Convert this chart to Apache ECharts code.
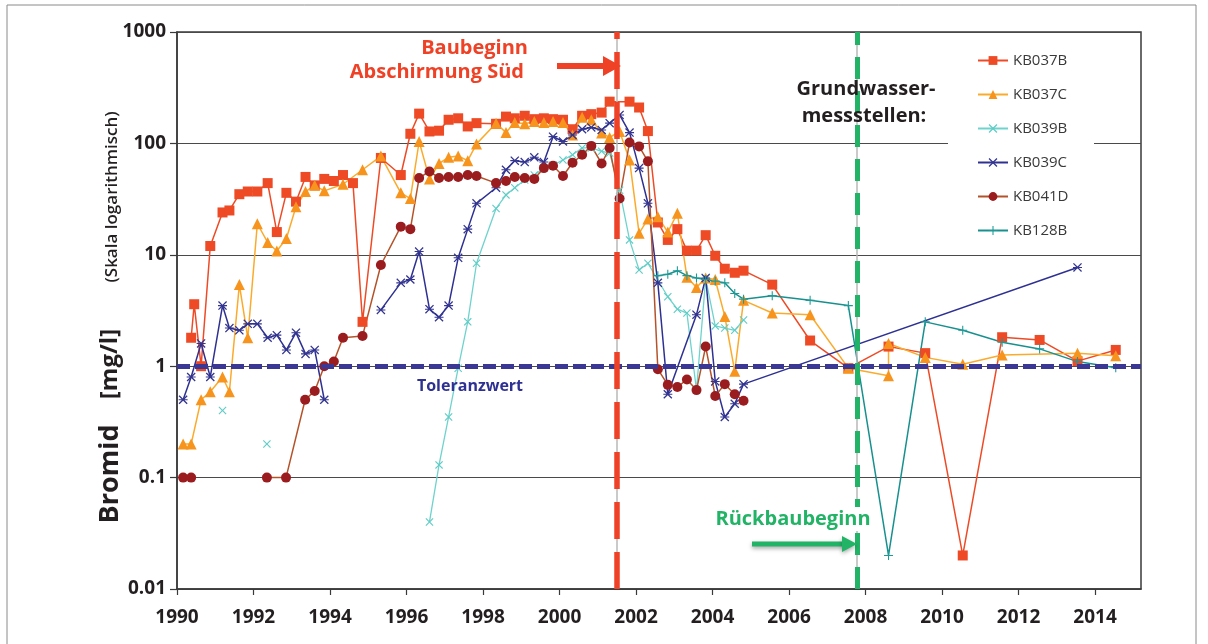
<!DOCTYPE html>
<html>
<head>
<meta charset="utf-8">
<script src="https://cdn.jsdelivr.net/npm/echarts@6.0.0/dist/echarts.min.js"></script>
<style>
    body { margin: 0; background: #fff; }
    #chart { width: 1208px; height: 644px; }
</style>
</head>
<body>
<div id="chart"></div>
<script>
// Bromid concentrations [mg/l], pairs of [year, value]; '-' breaks the line
var kb037b = [[1990.37, 1.8], [1990.45, 3.6], [1990.63, 1.0], [1990.87, 12], [1991.19, 24], [1991.37, 25], [1991.63, 35], [1991.85, 37], [1992.1, 37], [1992.37, 44], [1992.61, 16], [1992.86, 36], [1993.11, 30], [1993.36, 50], [1993.6, 42], [1993.85, 48], [1994.1, 46], [1994.34, 52], [1994.6, 44], [1994.85, 2.5], [1995.33, 74], [1995.85, 52], [1996.1, 122], [1996.33, 185], [1996.6, 128], [1996.85, 130], [1997.1, 163], [1997.35, 168], [1997.6, 142], [1997.83, 152], [1998.34, 150], [1998.6, 174], [1998.83, 168], [1999.09, 177], [1999.34, 165], [1999.59, 168], [1999.83, 165], [2000.09, 163], [2000.34, 134], [2000.59, 177], [2000.83, 183], [2001.1, 189], [2001.31, 237], [2001.83, 237], [2002.08, 210], [2002.31, 129], [2002.57, 19.5], [2002.83, 13.6], [2003.08, 17], [2003.33, 10.9], [2003.58, 10.9], [2003.82, 15], [2004.07, 9.8], [2004.32, 7.5], [2004.58, 6.9], [2004.81, 7.2], [2005.56, 5.4], [2006.55, 1.7], [2007.55, 0.96], [2008.6, 1.5], [2009.56, 1.31], [2010.54, 0.02], [2011.57, 1.82], [2012.55, 1.72], [2013.54, 1.11], [2014.54, 1.4]];
var kb037c = [[1990.16, 0.2], [1990.37, 0.2], [1990.63, 0.5], [1990.87, 0.59], [1991.19, 0.8], [1991.37, 0.59], [1991.63, 5.4], [1991.85, 1.8], [1992.1, 19], [1992.37, 12.9], [1992.61, 10.8], [1992.86, 14], [1993.11, 27], [1993.36, 37], [1993.6, 42], [1993.85, 37.5], [1994.34, 43], [1994.85, 58], [1995.33, 77], [1995.85, 36], [1996.1, 32], [1996.33, 104], [1996.6, 48], [1996.85, 66], [1997.1, 75], [1997.35, 77], [1997.6, 70], [1997.83, 99], [1998.34, 152], [1998.6, 125], [1998.83, 154], [1999.09, 150], [1999.34, 157], [1999.59, 154], [1999.83, 157], [2000.09, 154], [2000.34, 119], [2000.59, 172], [2000.83, 163], [2001.1, 124], [2001.31, 113], [2001.57, 128], [2001.83, 71], [2002.08, 15.6], [2002.31, 21], [2002.57, 22], [2002.83, 16], [2003.08, 23.6], [2003.33, 6.3], [2003.58, 5.1], [2003.82, 6.2], [2004.07, 6.0], [2004.32, 2.8], [2004.58, 0.9], [2004.81, 3.9], [2005.56, 3.0], [2006.55, 2.9], [2007.55, 0.96], [2008.6, 0.82], [2008.6, 1.6], [2009.56, 1.2], [2010.54, 1.04], [2011.57, 1.26], [2013.54, 1.31], [2014.54, 1.24]];
var kb039b = [[1991.19, 0.4], [1991.8, '-'], [1992.35, 0.2], [1994, '-'], [1996.6, 0.04], [1996.85, 0.13], [1997.1, 0.35], [1997.35, 0.96], [1997.6, 2.5], [1997.83, 8.4], [1998.34, 26], [1998.6, 34.5], [1998.83, 40], [1999.09, 47], [1999.34, 52], [1999.59, 60], [1999.83, 64], [2000.09, 71], [2000.34, 79], [2000.59, 91], [2000.83, 91], [2001.1, 85], [2001.31, 82], [2001.57, 38], [2001.83, 13.6], [2002.08, 7.3], [2002.31, 8.4], [2002.83, 4.2], [2003.08, 3.25], [2003.33, 3.0], [2003.58, 0.61], [2003.82, 6.1], [2004.07, 2.3], [2004.32, 2.2], [2004.58, 2.1], [2004.81, 2.6]];
var kb039c = [[1990.16, 0.5], [1990.37, 0.8], [1990.63, 1.6], [1990.87, 0.8], [1991.19, 3.5], [1991.37, 2.2], [1991.63, 2.1], [1991.85, 2.4], [1992.1, 2.4], [1992.37, 1.8], [1992.61, 1.9], [1992.86, 1.4], [1993.11, 2.0], [1993.36, 1.29], [1993.6, 1.4], [1993.85, 0.5], [1994.5, '-'], [1995.33, 3.2], [1995.85, 5.6], [1996.1, 6.0], [1996.33, 10.7], [1996.6, 3.25], [1996.85, 2.75], [1997.1, 3.5], [1997.35, 9.4], [1997.6, 17], [1997.83, 29], [1998.34, 40], [1998.6, 58], [1998.83, 70], [1999.09, 68], [1999.34, 75], [1999.59, 68], [1999.83, 115], [2000.09, 104], [2000.34, 119], [2000.59, 134], [2000.83, 139], [2001.1, 132], [2001.31, 152], [2001.57, 180], [2001.83, 125], [2002.08, 60], [2002.31, 29], [2002.57, 5.6], [2002.83, 0.56], [2003.58, 2.9], [2003.82, 6.2], [2004.07, 0.73], [2004.32, 0.35], [2004.58, 0.46], [2004.81, 0.69], [2013.54, 7.7]];
var kb041d = [[1990.16, 0.1], [1990.37, 0.1], [1991, '-'], [1992.35, 0.1], [1992.85, 0.1], [1993.35, 0.5], [1993.6, 0.6], [1993.85, 1.0], [1994.1, 1.1], [1994.34, 1.8], [1994.85, 1.87], [1995.33, 8.1], [1995.85, 17.9], [1996.1, 17], [1996.33, 49], [1996.6, 56], [1996.85, 49], [1997.1, 50], [1997.35, 50], [1997.6, 52], [1997.83, 51], [1998.34, 44], [1998.6, 46], [1998.83, 50], [1999.09, 49], [1999.34, 48], [1999.59, 60], [1999.83, 63], [2000.09, 51], [2000.34, 67], [2000.59, 79], [2000.83, 95], [2001.1, 66], [2001.31, 91], [2001.57, 32], [2001.83, 102], [2002.08, 94], [2002.31, 69], [2002.57, 0.94], [2002.83, 0.68], [2003.08, 0.65], [2003.33, 0.76], [2003.58, 0.61], [2003.82, 1.5], [2004.07, 0.54], [2004.32, 0.69], [2004.58, 0.56], [2004.81, 0.49]];
var kb128b = [[2002.57, 6.5], [2002.83, 6.7], [2003.08, 7.2], [2003.33, 6.5], [2003.58, 6.2], [2003.82, 6.0], [2004.07, 5.8], [2004.32, 5.6], [2004.58, 4.5], [2004.81, 4.0], [2005.56, 4.3], [2006.55, 3.9], [2007.55, 3.5], [2008.6, 0.02], [2009.56, 2.5], [2010.54, 2.1], [2011.57, 1.64], [2012.55, 1.43], [2013.54, 1.1], [2014.54, 0.97]];

var seriesNames = ['KB037B', 'KB037C', 'KB039B', 'KB039C', 'KB041D', 'KB128B'];
var toleranceValue = 1;
var baubeginnYear = 2001.49;
var rueckbauYear = 2007.77;

var crossPath = 'path://M0,1L1,0L5,4L9,0L10,1L6,5L10,9L9,10L5,6L1,10L0,9L4,5Z';
var plusPath = 'path://M4.4,0H5.6V4.4H10V5.6H5.6V10H4.4V5.6H0V4.4H4.4Z';
var starPath = 'path://M0,1L1,0L5,4L9,0L10,1L6,5L10,9L9,10L5,6L1,10L0,9L4,5ZM0,4.4H10V5.6H0Z';

var boldFont = '"Open Sans", "DejaVu Sans", sans-serif';

makeSeries = (name, data, symbol, size, color, lineColor, width) => {
    return {
        name: name,
        type: 'line',
        z: 3,
        data: data,
        symbol: symbol,
        symbolSize: size,
        connectNulls: false,
        itemStyle: { color: color },
        lineStyle: { color: lineColor, width: width },
        emphasis: { disabled: true },
        animation: false
    };
}

textEl = (text, x, y, font, color, align, rotation, extra) => {
    var style = {
        text: text,
        font: font,
        fill: color,
        textAlign: align,
        align: align,
        textVerticalAlign: 'middle',
        verticalAlign: 'middle'
    };
    if (extra) Object.assign(style, extra);
    return { type: 'text', x: x, y: y, rotation: rotation || 0, z: 10, silent: true, style: style };
}

var myChart = echarts.init(document.getElementById('chart'));
var option = {
    animation: false,
    backgroundColor: '#fff',
    grid: {
        left: 177,
        right: 67,
        top: 32,
        bottom: 55,
        show: true,
        borderColor: '#3a3a3a',
        borderWidth: 1.5
    },
    legend: {
        data: seriesNames,
        orient: 'vertical',
        left: 972,
        top: 48,
        itemWidth: 30,
        itemHeight: 11,
        itemGap: 19,
        textStyle: { fontSize: 15, color: '#3a3a3a', fontFamily: '"Open Sans", sans-serif' }
    },
    xAxis: {
        type: 'value',
        min: 1990,
        max: 2015.2,
        interval: 2,
        splitLine: { show: false },
        axisLine: { lineStyle: { color: '#3a3a3a', width: 1.5 } },
        axisTick: { show: true, inside: false, length: 6, lineStyle: { color: '#3a3a3a', width: 1.2 } },
        axisLabel: {
            margin: 19,
            fontSize: 19,
            fontWeight: 'bold',
            fontFamily: boldFont,
            color: '#231f20',
            showMaxLabel: false,
            formatter: function (v) { return v % 2 === 0 ? String(v) : ''; }
        }
    },
    yAxis: {
        type: 'log',
        logBase: 10,
        min: 0.01,
        max: 1000,
        axisLine: { show: true, lineStyle: { color: '#3a3a3a', width: 1.5 } },
        axisTick: { show: true, inside: false, length: 7, lineStyle: { color: '#3a3a3a', width: 1.2 } },
        splitLine: { show: true, lineStyle: { color: '#4a4a4a', width: 1.2 } },
        minorTick: { show: false },
        axisLabel: {
            margin: 11,
            fontSize: 19,
            fontWeight: 'bold',
            fontFamily: boldFont,
            color: '#231f20',
            formatter: function (v) { return v >= 1 ? String(Math.round(v)) : String(+v.toPrecision(1)); }
        }
    },
    series: [
        {
            name: 'marks',
            type: 'line',
            z: 1,
            data: [],
            silent: true,
            markLine: {
                silent: true,
                symbol: 'none',
                animation: false,
                label: { show: false },
                data: [
                    { yAxis: toleranceValue, lineStyle: { color: '#3b3795', width: 5, type: [13, 5] } },
                    { xAxis: baubeginnYear, lineStyle: { color: '#b8b8b8', width: 1.5, type: 'solid' } },
                    { xAxis: rueckbauYear, lineStyle: { color: '#b8b8b8', width: 1.5, type: 'solid' } },
                    { xAxis: baubeginnYear, lineStyle: { color: '#ee4126', width: 5.5, type: [37, 13] } },
                    { xAxis: rueckbauYear, lineStyle: { color: '#22b366', width: 5, type: [22, 12] } }
                ]
            }
        },
        makeSeries('KB037B', kb037b, 'rect', 10, '#ee4a25', '#ee4a25', 1.5),
        makeSeries('KB037C', kb037c, 'triangle', 11, '#f7941d', '#fbab2b', 1.5),
        makeSeries('KB039B', kb039b, crossPath, 8, '#5fcdc6', '#6fd3cd', 1.3),
        makeSeries('KB039C', kb039c, starPath, 9, '#33358f', '#2e3192', 1.5),
        makeSeries('KB041D', kb041d, 'circle', 10, '#9b1c1f', '#b4532a', 1.5),
        makeSeries('KB128B', kb128b, plusPath, 9, '#1e9a96', '#17918f', 1.5)
    ],
    graphic: {
        elements: [
            { type: 'rect', silent: true, z: 0, shape: { x: 7, y: 5, width: 1189, height: 700 }, style: { fill: 'none', stroke: '#8a8a8a', lineWidth: 1 } },
            // white boxes behind legend and the Grundwasser label
            { type: 'rect', silent: true, z: 2, shape: { x: 948, y: 34, width: 146, height: 208 }, style: { fill: '#fff' } },
            { type: 'rect', silent: true, z: 2, shape: { x: 790, y: 72, width: 158, height: 69 }, style: { fill: '#fff' } },

            textEl('Baubeginn', 528, 48, 'bold 20px ' + boldFont, '#ee4126', 'right'),
            textEl('Abschirmung Süd', 524, 72, 'bold 20px ' + boldFont, '#ee4126', 'right'),
            { type: 'polyline', silent: true, z: 10, shape: { points: [[557, 66], [607, 66]] }, style: { stroke: '#ee4126', lineWidth: 6 } },
            { type: 'polygon', silent: true, z: 10, shape: { points: [[603, 56], [621, 66], [603, 76]] }, style: { fill: '#ee4126' } },

            textEl('Grundwasser-', 866, 89, 'bold 20px ' + boldFont, '#231f20', 'center'),
            textEl('messstellen:', 864, 116, 'bold 20px ' + boldFont, '#231f20', 'center'),

            textEl('Toleranzwert', 470, 386, 'bold 16px ' + boldFont, '#2e3192', 'center'),

            textEl('Rückbaubeginn', 793, 519, 'bold 20px ' + boldFont, '#22b366', 'center', 0, { backgroundColor: '#fff', padding: [2, 8] }),
            { type: 'polyline', silent: true, z: 10, shape: { points: [[752, 544], [846, 544]] }, style: { stroke: '#22b366', lineWidth: 5, shadowBlur: 4, shadowColor: 'rgba(0,0,0,0.35)', shadowOffsetY: 2 } },
            { type: 'polygon', silent: true, z: 10, shape: { points: [[842, 536], [857, 544], [842, 552]] }, style: { fill: '#22b366', shadowBlur: 4, shadowColor: 'rgba(0,0,0,0.3)', shadowOffsetY: 2 } },

            textEl('Bromid', 110, 474, 'bold 27px ' + boldFont, '#231f20', 'center', Math.PI / 2),
            textEl('[mg/l]', 110, 364, 'bold 24px ' + boldFont, '#231f20', 'center', Math.PI / 2),
            textEl('(Skala logarithmisch)', 112, 197, '600 17px ' + boldFont, '#231f20', 'center', Math.PI / 2)
        ]
    }
};

if (option && typeof option === "object") {
    myChart.setOption(option, true);
}
</script>
</body>
</html>
